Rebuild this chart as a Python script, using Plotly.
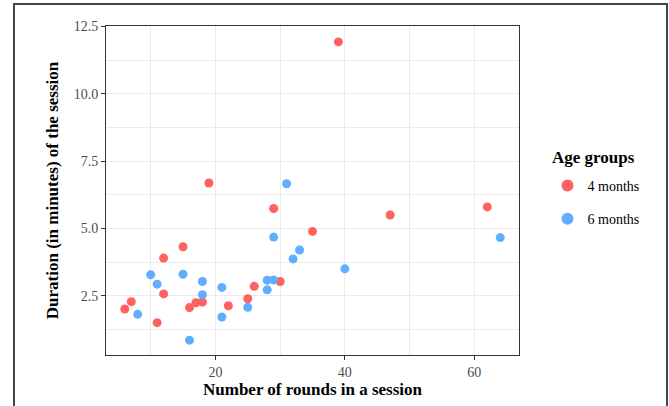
import plotly.graph_objects as go

# 4 months group
rounds_4m = [19, 29, 47, 62, 35, 15, 12, 12, 7, 6, 11, 16, 17, 18, 22, 25, 26, 30, 39]
duration_4m = [6.69, 5.74, 5.50, 5.80, 4.89, 4.32, 3.90, 2.57, 2.28, 2.01, 1.50, 2.06, 2.24, 2.27, 2.13, 2.39, 2.85, 3.03, 11.93]

# 6 months group
rounds_6m = [31, 29, 64, 33, 32, 40, 10, 15, 11, 18, 18, 21, 28, 29, 28, 25, 21, 8, 16]
duration_6m = [6.66, 4.68, 4.66, 4.20, 3.87, 3.50, 3.28, 3.30, 2.93, 3.03, 2.54, 2.81, 3.08, 3.09, 2.72, 2.07, 1.71, 1.81, 0.85]

group_names = ["4 months", "6 months"]
group_colors = ["#FF6161", "#61AEFF"]
legend_title = "Age groups"

FONT = "Liberation Serif"

fig = go.Figure()
for name, xs, ys, col in zip(group_names, [rounds_4m, rounds_6m], [duration_4m, duration_6m], group_colors):
    fig.add_trace(go.Scatter(
        x=xs, y=ys, mode="markers", name=name, legendgroup=name,
        marker=dict(color=col, size=9, line=dict(width=0)),
    ))

grid = "#EBEBEB"
axis_common = dict(
    showline=True, linecolor="#333333", linewidth=1, mirror=True,
    ticks="outside", ticklen=4, tickcolor="#333333", tickwidth=1,
    showgrid=True, gridcolor=grid, gridwidth=1, zeroline=False,
    automargin=False,
    tickfont=dict(family=FONT, size=14, color="#4D4D4D"),
)

fig.update_layout(
    width=669, height=406,
    margin=dict(l=106, r=150, t=26, b=51, autoexpand=False),
    paper_bgcolor="white", plot_bgcolor="white",
    font=dict(family=FONT),
    xaxis=dict(
        range=[3.1, 66.9], tick0=0, dtick=20,
        minor=dict(dtick=10, showgrid=True, gridcolor=grid, gridwidth=0.6, ticks=""),
        title=dict(text="Number of rounds in a session", standoff=0,
                   font=dict(family=FONT, size=17, color="black", weight="bold")),
        **axis_common,
    ),
    yaxis=dict(
        range=[0.3, 12.52], tick0=0, dtick=2.5, tickformat=".1f",
        minor=dict(dtick=1.25, showgrid=True, gridcolor=grid, gridwidth=0.6, ticks=""),
        title=dict(text="Duration (in minutes) of the session", standoff=10,
                   font=dict(family=FONT, size=17, color="black", weight="bold")),
        **axis_common,
    ),
    legend=dict(
        font=dict(family=FONT, size=14, color="black"),
        x=1.069, xanchor="left", y=(355 - 202.5) / 329, yanchor="middle",
        tracegroupgap=12, itemsizing="constant",
    ),
    showlegend=True,
)

fig.add_annotation(
    text=legend_title, xref="paper", yref="paper",
    x=(550 - 106) / 413, y=(355 - 157) / 329, xanchor="left", yanchor="middle",
    showarrow=False, font=dict(family=FONT, size=17, color="black", weight="bold"),
)

# outer frame around the figure
fig.add_shape(type="rect", xref="paper", yref="paper",
              x0=-0.2228, x1=1.3584, y0=-0.2, y1=1.0669,
              line=dict(color="#444444", width=2), fillcolor="rgba(0,0,0,0)", layer="above")

fig.write_html("out.html", post_script="document.body.style.margin='0px';",
               config={"displayModeBar": False})
